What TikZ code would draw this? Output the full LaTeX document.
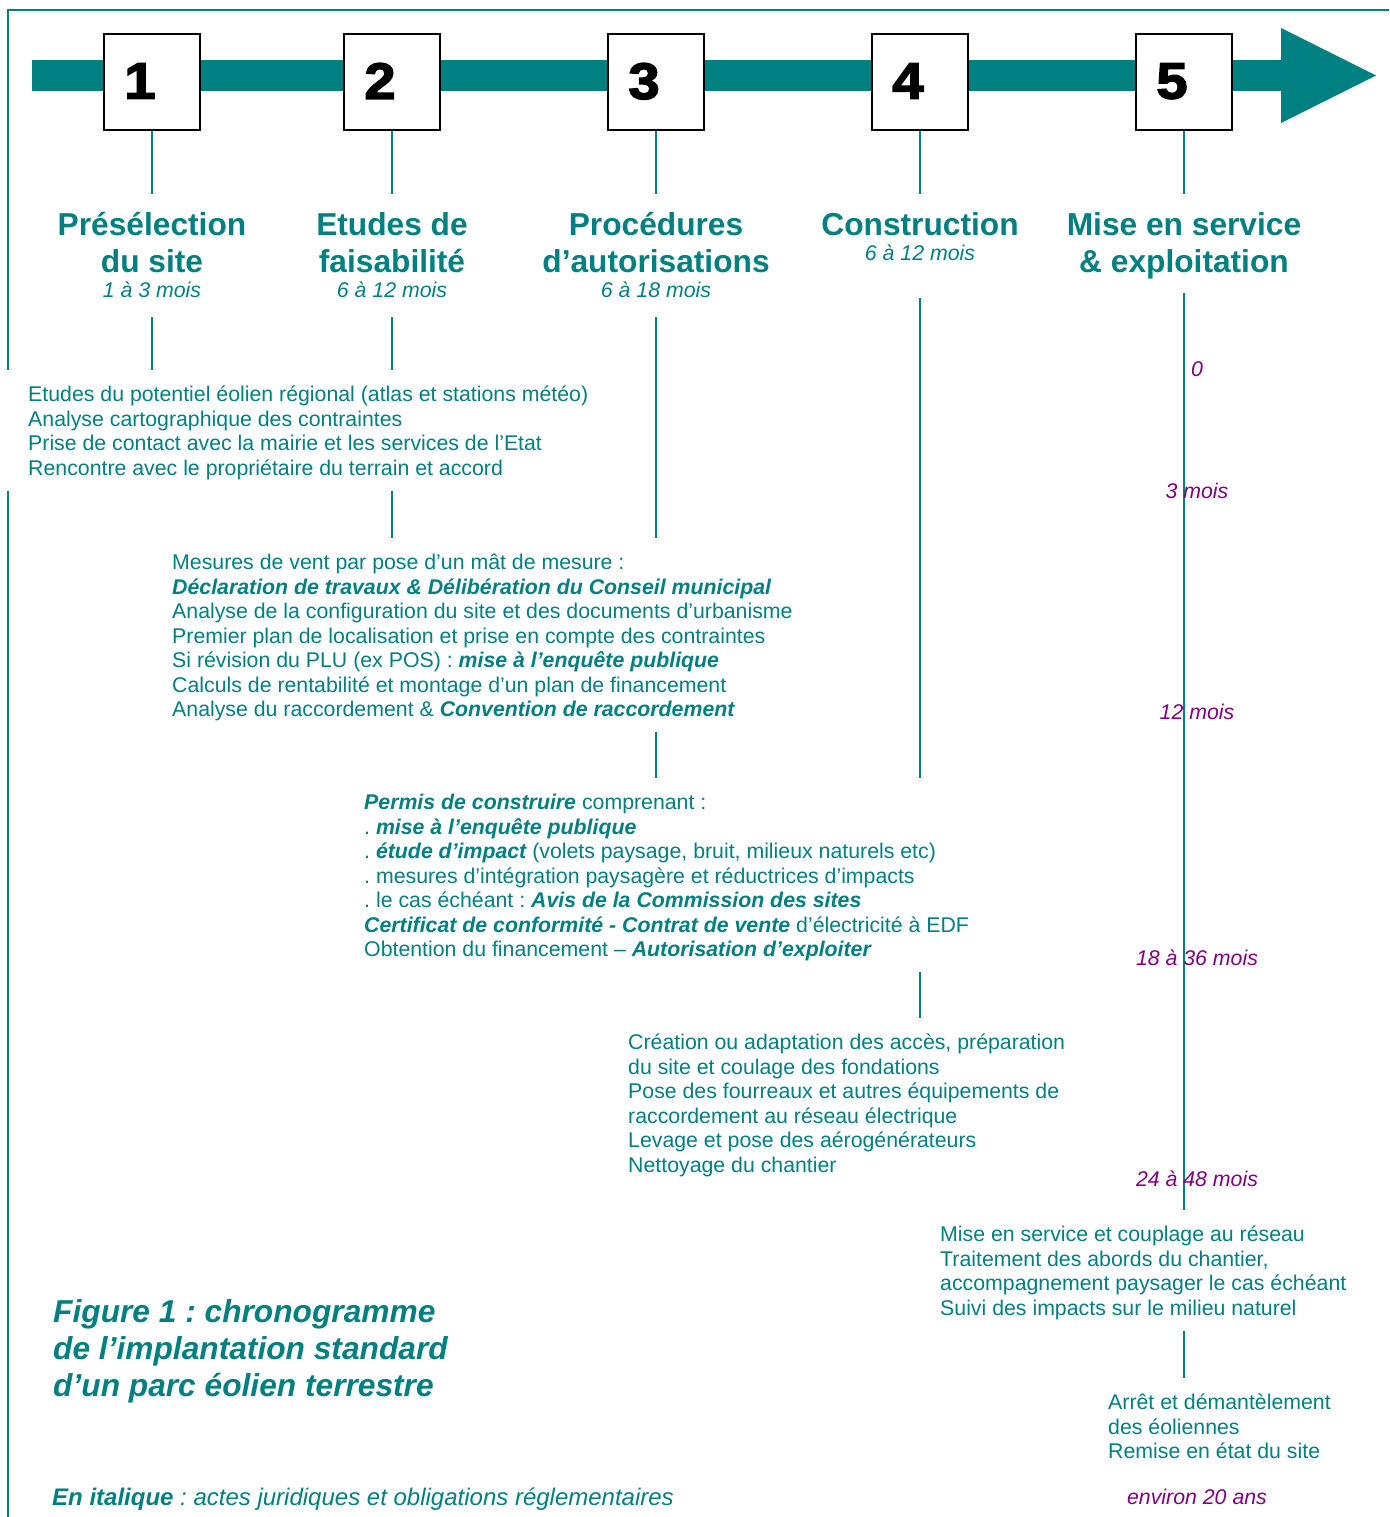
\documentclass[tikz,border=0pt]{standalone}
\usepackage{fontspec}
\setmainfont{Liberation Sans}
\newfontface\digitfont[FakeBold=3,FakeStretch=1.1]{Liberation Sans Bold}
\usetikzlibrary{calc}
\frenchspacing

\definecolor{chronoteal}{RGB}{0,128,128}
\definecolor{chronopurple}{RGB}{128,0,128}

% font sizes (1pt = 1 unit of the drawing grid)
\newcommand\bodyfont{\fontsize{21.3}{24.5}\selectfont\lineskiplimit=-100pt\relax}
\newcommand\keyfont{\fontsize{24}{28}\selectfont}
\newcommand\ttlfont{\fontsize{31.7}{37}\selectfont\bfseries\lineskiplimit=-100pt\relax}
% legal acts and regulatory obligations
\newcommand\legal[1]{{\bfseries\itshape #1}}
% fixed top / bottom struts so node borders do not depend on the glyphs
\newcommand\tstr{\rule{0pt}{1em}}
\newcommand\bstr{\rule[-0.5em]{0pt}{0.5em}}
\newcommand\btstr{\rule{0pt}{\dimexpr1em+2.5pt\relax}}
\newcommand\bbstr{\rule[\dimexpr2.5pt-0.5em\relax]{0pt}{\dimexpr0.5em-2.5pt\relax}}

\begin{document}
\begin{tikzpicture}[x=1pt,y=-1pt,
  frame/.style={draw=chronoteal, line width=1.5pt},
  stepbox/.style={draw=black, line width=2pt, fill=white, minimum size=96pt,
    inner sep=0pt, font=\digitfont\fontsize{51}{51}\selectfont, text=black},
  ttl/.style={anchor=north, align=center, inner xsep=0pt, inner ysep=9.5pt,
    font=\ttlfont, text=chronoteal},
  dur/.style={anchor=base, inner xsep=0pt, inner ysep=9.5pt,
    font=\bodyfont\itshape, text=chronoteal},
  blk/.style={anchor=north west, align=left, inner xsep=0pt, inner ysep=7.5pt,
    fill=white, font=\bodyfont, text=chronoteal},
  tick/.style={anchor=base, inner sep=0pt, font=\bodyfont\itshape, text=chronopurple},
  link/.style={draw=chronoteal, line width=1.3pt}]

\useasboundingbox (0,0) rectangle (1389,1517);

% frame (top and left edges)
\draw[frame] (8,1517) -- (8,10) -- (1389,10);

% time arrow
\fill[chronoteal] (32,60) rectangle (1282,91);
\fill[chronoteal] (1281,28) -- (1376,75.5) -- (1281,123) -- cycle;

% numbered steps
\foreach \n/\x in {1/152,2/392,3/656,4/920,5/1184}
  \node[stepbox] (b\n) at (\x,82) {\raisebox{2pt}{\n}\hspace*{24pt}};

% phase titles
\node[ttl] (t1) at (152,194)  {\tstr Présélection\\du site\bstr};
\node[ttl] (t2) at (392,194)  {\tstr Etudes de\\faisabilité\bstr};
\node[ttl] (t3) at (656,194)  {\tstr Procédures\\d’autorisations\bstr};
\node[ttl] (t4) at (920,194)  {\tstr Construction\bstr};
\node[ttl] (t5) at (1184,194) {\tstr Mise en service\\\& exploitation\bstr};

% phase durations
\node[dur] (d1) at (152,297) {1 à 3 mois\bstr};
\node[dur] (d2) at (392,297) {6 à 12 mois\bstr};
\node[dur] (d3) at (656,297) {6 à 18 mois\bstr};
\node[dur] (d4) at (920,260) {6 à 12 mois\bstr};

% task blocks
\node[blk, inner xsep=28pt] (A) at (0,370) {\btstr Etudes du potentiel éolien régional (atlas et stations météo)\\
Analyse cartographique des contraintes\\
Prise de contact avec la mairie et les services de l’Etat\\
Rencontre avec le propriétaire du terrain et accord\bbstr};

\node[blk] (B) at (172,538) {\btstr Mesures de vent par pose d’un mât de mesure :\\
\legal{Déclaration de travaux \& Délibération du Conseil municipal}\\
Analyse de la configuration du site et des documents d’urbanisme\\
Premier plan de localisation et prise en compte des contraintes\\
Si révision du PLU (ex POS) : \legal{mise à l’enquête publique}\\
Calculs de rentabilité et montage d’un plan de financement\\
Analyse du raccordement \& \legal{Convention de raccordement}\bbstr};

\node[blk] (C) at (364,778) {\btstr\legal{Permis de construire} comprenant :\\
. \legal{mise à l’enquête publique}\\
. \legal{étude d’impact} (volets paysage, bruit, milieux naturels etc)\\
. mesures d’intégration paysagère et réductrices d’impacts\\
. le cas échéant : \legal{Avis de la Commission des sites}\\
\legal{Certificat de conformité - Contrat de vente} d’électricité à EDF\\
Obtention du financement – \legal{Autorisation d’exploiter}\bbstr};

\node[blk] (D) at (628,1018) {\btstr Création ou adaptation des accès, préparation\\
du site et coulage des fondations\\
Pose des fourreaux et autres équipements de\\
raccordement au réseau électrique\\
Levage et pose des aérogénérateurs\\
Nettoyage du chantier\bbstr};

\node[blk] (E) at (940,1210) {\btstr Mise en service et couplage au réseau\\
Traitement des abords du chantier,\\
accompagnement paysager le cas échéant\\
Suivi des impacts sur le milieu naturel\bbstr};

\node[blk] (F) at (1108,1378) {\btstr Arrêt et démantèlement\\
des éoliennes\\
Remise en état du site\bbstr};

% connectors
\foreach \n in {1,...,5} \draw[link] (b\n) -- (t\n);
\draw[link] (d1) -- (d1 |- A.north);
\draw[link] (d2) -- (d2 |- A.north);
\draw[link] (A.south -| d2) -- (d2 |- B.north);
\draw[link] (d3) -- (d3 |- B.north);
\draw[link] (B.south -| d3) -- (d3 |- C.north);
\draw[link, shorten <=18pt] (d4) -- (d4 |- C.north);
\draw[link] (C.south -| d4) -- (d4 |- D.north);
\draw[link, shorten <=-5.4pt] (t5) -- (t5 |- E.north);
\draw[link] (E.south -| t5) -- (t5 |- F.north);

% elapsed time marks
\node[tick] (m0)   at (1197,376)  {0};
\node[tick] (m3)   at (1197,498)  {3 mois};
\node[tick] (m12)  at (1197,719)  {12 mois};
\node[tick] (m18)  at (1197,965)  {18 à 36 mois};
\node[tick] (m24)  at (1197,1186) {24 à 48 mois};
\node[tick] (m240) at (1197,1504) {environ 20 ans};

% caption and key
\node[anchor=north west, inner sep=0pt, align=left, font=\ttlfont\itshape,
  text=chronoteal] (cap) at (53,1290.3)
  {\tstr Figure 1 : chronogramme\\de l’implantation standard\\d’un parc éolien terrestre};
\node[anchor=base west, inner sep=0pt, font=\keyfont\itshape, text=chronoteal]
  (key) at (52,1505.5) {\textbf{En italique} : actes juridiques et obligations réglementaires};
\end{tikzpicture}
\end{document}
